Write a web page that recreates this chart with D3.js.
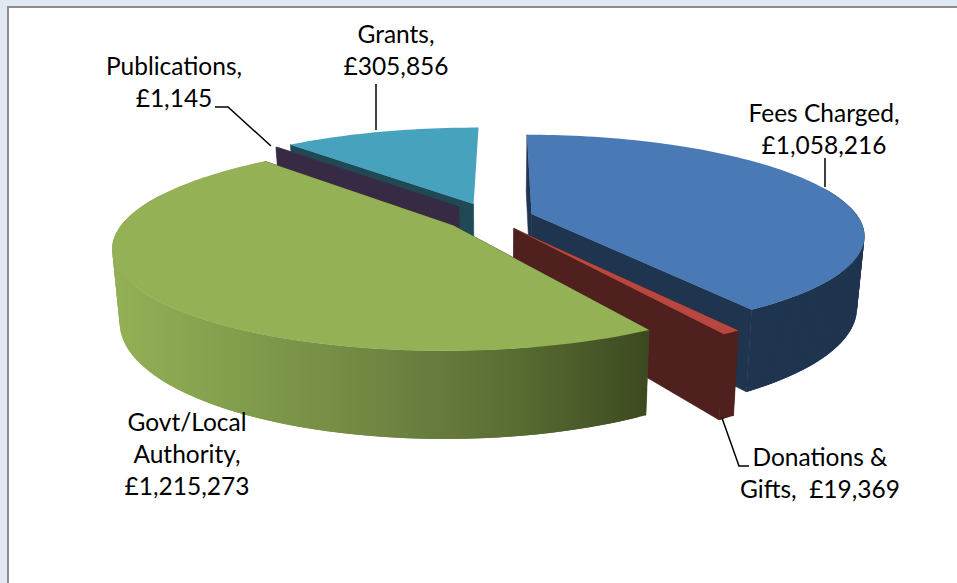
<!DOCTYPE html>
<html>
<head>
<meta charset="utf-8">
<script src="https://cdn.jsdelivr.net/npm/d3@7"></script>
<style>
  html, body { margin: 0; padding: 0; background: #e0e9f3; overflow: hidden; }
</style>
</head>
<body>
<div id="chart"></div>
<script>
// Slice values, in the order they run clockwise from 12 o'clock
const categories = ['Fees Charged', 'Donations & Gifts', 'Govt/Local Authority', 'Publications', 'Grants'];
const values = [1058216, 19369, 1215273, 1145, 305856];
const topColors = ['#4a7ab5', '#b8483f', '#94b155', '#5f4b7c', '#46a2bd'];
const wallColors = ['#1f344f', '#4f201e', '#94b155', '#372a45', '#1f4a55'];
const labelLines = [
  ['Fees Charged,', '£1,058,216'],
  ['Donations &', 'Gifts,  £19,369'],
  ['Govt/Local', 'Authority,', '£1,215,273'],
  ['Publications,', '£1,145'],
  ['Grants,', '£305,856']
];

const width = 957;
const height = 583;

const svg = d3.select('#chart').append('svg')
  .attr('width', width)
  .attr('height', height)
  .style('display', 'block');

// Frame of the white chart area
svg.append('rect').attr('x', 8).attr('y', 7).attr('width', width).attr('height', height).attr('fill', '#ffffff');
svg.append('path').attr('d', `M8,${height} V7 H${width}`).attr('fill', 'none').attr('stroke', '#8c8c8c').attr('stroke-width', 2);

// Left to right shading of the big slice's rim
const defs = svg.append('defs');
const rimGrad = defs.append('linearGradient')
  .attr('id', 'greenRim')
  .attr('gradientUnits', 'userSpaceOnUse')
  .attr('x1', 118).attr('x2', 646).attr('y1', 0).attr('y2', 0);
[[0, '#93b056'], [0.2, '#84a04d'], [0.5, '#6f8542'], [0.75, '#596d33'], [1, '#3d4a20']].forEach(s => {
  rimGrad.append('stop').attr('offset', s[0]).attr('stop-color', s[1]);
});

// Tilted disc with a little perspective
const cx = 491, cy = 217.5;
const rx = 327, ry = 96.5;
const explode = [0.13, 0.13, 0.14, 0.15, 0.155]; // per slice, fitted by eye
const rotation = 0.008;
const persp = 0.2;
const depth = 69;
const shrink = 0.98;

// Model units to pixels
const xScale = d3.scaleLinear().domain([0, 1]).range([cx, cx + rx]);
const yScale = d3.scaleLinear().domain([0, 1]).range([cy, cy + ry]);

function project(mx, mz, bottom) {
  const s = 1 / (1 - persp * mz);
  const px = xScale(mx * s);
  const py = yScale(mz * s);
  if (!bottom) return [px, py];
  return [cx + (px - cx) * shrink, py + depth * s];
}

const pie = d3.pie().sort(null).value(d => d)
  .startAngle(rotation)
  .endAngle(Math.PI * 2 + rotation);
const arcs = pie(values);
const line = d3.line();

function slicePoints(d) {
  const mid = (d.startAngle + d.endAngle) / 2;
  const ox = Math.sin(mid) * explode[d.index];
  const oz = -Math.cos(mid) * explode[d.index];
  const n = Math.max(2, Math.ceil((d.endAngle - d.startAngle) * 40));
  const angles = d3.range(n + 1).map(i => d.startAngle + (d.endAngle - d.startAngle) * i / n);
  const rim = angles.map(a => [ox + Math.sin(a), oz - Math.cos(a)]);
  return { apex: [ox, oz], rim, angles };
}

// Back to front, the way the slices overlap
const drawOrder = [0, 4, 3, 1, 2];

const pieG = svg.append('g').attr('class', 'pie');

drawOrder.forEach(i => {
  const p = slicePoints(arcs[i]);
  const wall = i === 2 ? 'url(#greenRim)' : wallColors[i];
  const first = p.rim[0];
  const last = p.rim[p.rim.length - 1];
  const faceColor = i === 2 ? '#3d4a20' : wallColors[i];

  // Cut faces, start and end of the slice; the Grants end face does not show
  (i === 4 ? [first] : [first, last]).forEach(edge => {
    pieG.append('path')
      .attr('d', line([
        project(p.apex[0], p.apex[1]),
        project(edge[0], edge[1]),
        project(edge[0], edge[1], true),
        project(p.apex[0], p.apex[1], true)
      ]) + 'Z')
      .attr('fill', faceColor)
      .attr('stroke', faceColor)
      .attr('stroke-width', 0.6);
  });

  // Outer rim as overlapping strips, front part only
  const rimTop = p.rim.map(r => project(r[0], r[1]));
  const rimBottom = p.rim.map(r => project(r[0], r[1], true));
  d3.range(p.rim.length - 1).forEach(j => {
    if (Math.cos(p.angles[j]) > 0.3) return;
    const k = Math.min(j + 2, p.rim.length - 1);
    pieG.append('path')
      .attr('d', line([rimTop[j], rimTop[k], rimBottom[k], rimBottom[j]]) + 'Z')
      .attr('fill', wall);
  });

  // Top face
  pieG.append('path')
    .attr('d', line([project(p.apex[0], p.apex[1])].concat(rimTop)) + 'Z')
    .attr('fill', topColors[i]);
});

// Leader lines
const leaders = [
  [[825, 158], [825, 187]],
  [[722, 418], [739, 466], [749, 466]],
  [[215, 107], [228, 107], [271, 146]],
  [[376, 84], [376, 130]]
];
svg.append('g').selectAll('path')
  .data(leaders)
  .enter()
  .append('path')
  .attr('d', d => line(d))
  .attr('fill', 'none')
  .attr('stroke', '#000000')
  .attr('stroke-width', 1.5);

// Labels, one block per slice, same order as categories
const labelPos = [
  { x: 824, y: 122 },
  { x: 820, y: 466 },
  { x: 187, y: 431 },
  { x: 174, y: 75 },
  { x: 396, y: 43 }
];
const labels = svg.append('g').selectAll('text')
  .data(categories)
  .enter()
  .append('text')
  .attr('text-anchor', 'middle')
  .attr('font-family', 'Lato, "Open Sans", sans-serif')
  .attr('font-size', 24.5)
  .attr('fill', '#000000')
  .style('white-space', 'pre');

labels.each(function(d, i) {
  d3.select(this).selectAll('tspan')
    .data(labelLines[i])
    .enter()
    .append('tspan')
    .attr('x', labelPos[i].x)
    .attr('y', (t, j) => labelPos[i].y + j * 32)
    .text(t => t);
});
</script>
</body>
</html>
